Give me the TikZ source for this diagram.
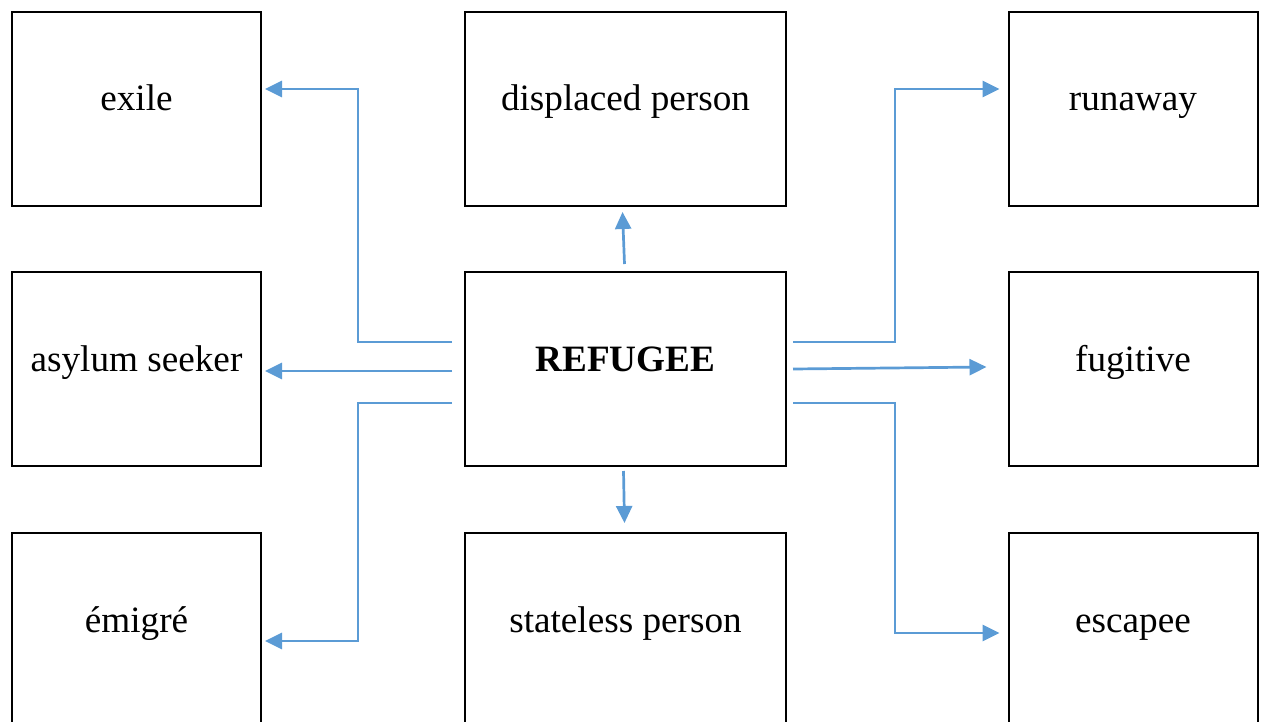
\documentclass[tikz,border=0pt]{standalone}
\usepackage{fontspec}
\setmainfont{Liberation Serif}
\usetikzlibrary{arrows.meta,calc}
\definecolor{linkblue}{HTML}{5B9BD5}
\begin{document}
\begin{tikzpicture}[x=1pt,y=-1pt,
  termbox/.style={draw=black, line width=2pt, minimum height=194pt,
    inner sep=0pt, text height=14pt, text depth=10pt,
    font=\fontsize{37.2}{44}\selectfont},
  sidebox/.style={termbox, minimum width=249pt},
  midbox/.style={termbox, minimum width=321pt},
  link/.style={draw=linkblue, line width=2.7pt,
    -{Triangle[length=17pt,width=16pt]}}]
  \useasboundingbox (0,0) rectangle (1264,722);
  \clip (0,0) rectangle (1264,722);

  % left column
  \node[sidebox] (exile)  at (136.5,109) {exile};
  \node[sidebox] (asylum) at (136.5,369) {asylum seeker};
  \node[sidebox] (emigre) at (136.5,630) {émigré};
  % middle column
  \node[midbox] (displaced) at (625.5,109) {displaced person};
  \node[midbox] (refugee)   at (625.5,369) {\bfseries REFUGEE};
  \node[midbox] (stateless) at (625.5,630) {stateless person};
  % right column
  \node[sidebox] (runaway)  at (1133,109) {runaway};
  \node[sidebox] (fugitive) at (1133,369) {fugitive};
  \node[sidebox] (escapee)  at (1133,630) {escapee};

  % start points of the connectors, just outside the central box
  \coordinate (lt) at ($(refugee.west)+(-12,-27)$);
  \coordinate (lm) at ($(refugee.west)+(-12,2)$);
  \coordinate (lb) at ($(refugee.west)+(-12,34)$);
  \coordinate (rt) at ($(refugee.east)+(6,-27)$);
  \coordinate (rm) at ($(refugee.east)+(6,0)$);
  \coordinate (rb) at ($(refugee.east)+(6,34)$);
  \coordinate (up) at ($(refugee.north)+(-1,-7)$);
  \coordinate (dn) at ($(refugee.south)+(-2,4)$);

  % connectors to the left
  \draw[link] (lt) -| (358,89) -- ($(exile.east)+(3,-20)$);
  \draw[link] (lm) -- ($(asylum.east)+(3,2)$);
  \draw[link] (lb) -| (358,641) -- ($(emigre.east)+(3,11)$);
  % connectors up and down
  \draw[link] (up) -- ($(displaced.south)+(-3,5)$);
  \draw[link] (dn) -- ($(stateless.north)+(-1,-9)$);
  % connectors to the right
  \draw[link] (rt) -| (895,89) -- ($(runaway.west)+(-8,-20)$);
  \draw[link] (rm) -- ($(fugitive.west)+(-21,-2)$);
  \draw[link] (rb) -| (895,633) -- ($(escapee.west)+(-8,3)$);
\end{tikzpicture}
\end{document}
